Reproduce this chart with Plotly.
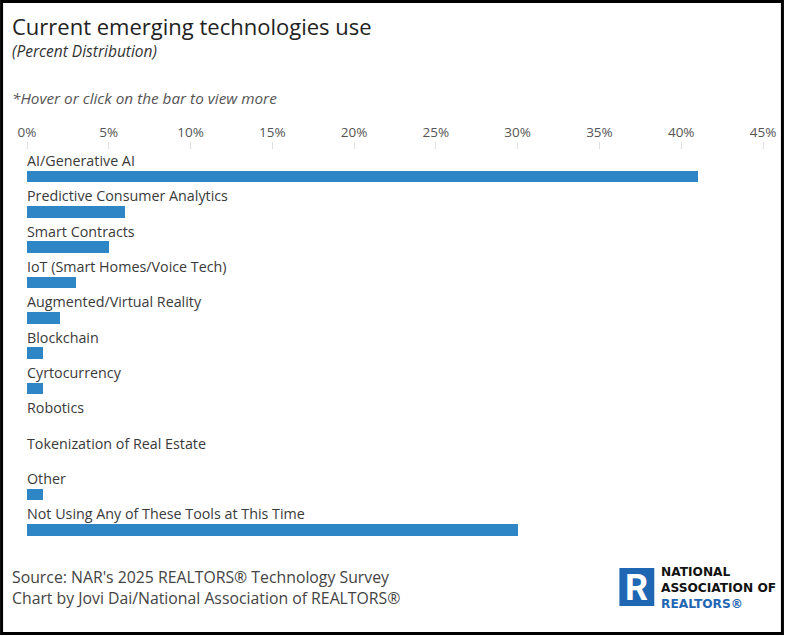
import plotly.graph_objects as go

categories = [
    "AI/Generative AI",
    "Predictive Consumer Analytics",
    "Smart Contracts",
    "IoT (Smart Homes/Voice Tech)",
    "Augmented/Virtual Reality",
    "Blockchain",
    "Cyrtocurrency",
    "Robotics",
    "Tokenization of Real Estate",
    "Other",
    "Not Using Any of These Tools at This Time",
]
values = [41, 6, 5, 3, 2, 1, 1, 0, 0, 1, 30]
tick_vals = [0, 5, 10, 15, 20, 25, 30, 35, 40, 45]
tick_text = [f"{v}%" for v in tick_vals]

W, H = 788, 636
L, R, T, B = 27, 23, 150, 88
PW, PH = W - L - R, H - T - B

def px(x):
    return (x - L) / PW

def py(y):
    return 1 - (y - T) / PH

FONT = "Open Sans"
BAR = "#2f86c6"

fig = go.Figure()
fig.add_trace(go.Bar(
    x=values, y=categories, orientation="h",
    marker=dict(color=BAR, line=dict(width=0)),
    width=0.33,
    hovertemplate="%{y}: %{x}%<extra></extra>",
))

annotations = []
for c in categories:
    annotations.append(dict(
        x=0, y=c, xref="x", yref="y", text=c, showarrow=False,
        xanchor="left", yanchor="middle", yshift=16, xshift=-2,
        font=dict(family=FONT, size=14.3, color="#3a3a3a"),
    ))

def txt(x, y, s, size, color="#333", italic=False, anchor="left", family=FONT):
    if italic:
        s = f"<i>{s}</i>"
    annotations.append(dict(
        x=px(x), y=py(y), xref="paper", yref="paper", text=s, showarrow=False,
        xanchor=anchor, yanchor="middle", align="left",
        font=dict(family=family, size=size, color=color),
    ))

txt(10, 26, "Current emerging technologies use", 22, "#222")
txt(10, 51, "(Percent Distribution)", 15.5, "#333", italic=True)
txt(10, 98, "*Hover or click on the bar to view more", 15.3, "#555", italic=True)
txt(10, 587,
    "Source: NAR's 2025 REALTORS® Technology Survey<br>"
    "Chart by Jovi Dai/National Association of REALTORS®",
    15.8, "#444")
# logo text (single block)
txt(661, 588,
    "<b>NATIONAL<br>ASSOCIATION OF<br>"
    "<span style='color:#1f66b3'>REALTORS®</span></b>",
    12.2, "#111", family="DejaVu Sans")
annotations.append(dict(
    x=px(638.5), y=py(587.5), xref="paper", yref="paper", text="<b>R</b>",
    showarrow=False, xanchor="center", yanchor="middle",
    font=dict(family="Roboto", size=36, color="white"),
))

shapes = [
    dict(type="rect", xref="paper", yref="paper",
         x0=px(621), x1=px(656), y0=py(568), y1=py(606),
         fillcolor="#1f66b3", line=dict(width=0), layer="below"),
    dict(type="rect", xref="paper", yref="paper",
         x0=px(1.5), x1=px(784.5), y0=py(1.5), y1=py(633.5),
         line=dict(color="black", width=3), fillcolor="rgba(0,0,0,0)"),
]

fig.update_layout(
    width=W, height=H,
    margin=dict(l=L, r=R, t=T, b=B),
    paper_bgcolor="white", plot_bgcolor="white",
    showlegend=False,
    bargap=0,
    annotations=annotations,
    shapes=shapes,
    xaxis=dict(
        side="top", range=[0, 45], tickvals=tick_vals, ticktext=tick_text,
        showgrid=False, zeroline=False, showline=False,
        ticks="outside", ticklen=7, tickcolor="#e0e0e0", tickwidth=1,
        tickfont=dict(family=FONT, size=13.5, color="#555"),
        fixedrange=True,
    ),
    yaxis=dict(
        categoryorder="array", categoryarray=categories,
        range=[10.51, -0.75], showticklabels=False, showgrid=False,
        zeroline=False, showline=False, ticks="", fixedrange=True,
    ),
    hoverlabel=dict(font=dict(family=FONT)),
)

fig.write_html(
    "out.html",
    config={"displayModeBar": False},
    post_script="document.body.style.margin='0';document.body.style.overflow='hidden';",
)
